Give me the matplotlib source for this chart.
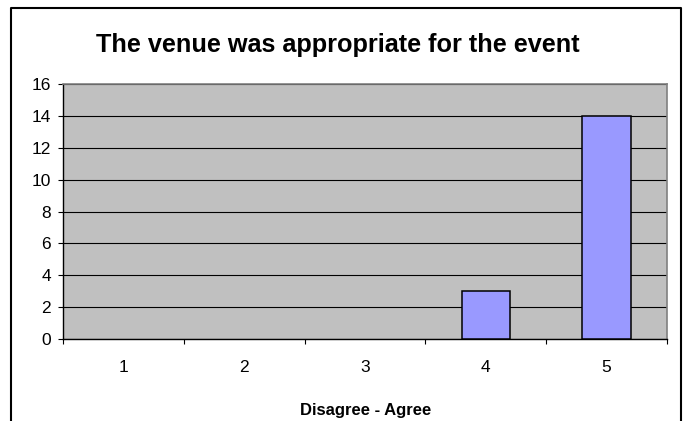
import numpy as np
import matplotlib
matplotlib.use('Agg')
import matplotlib.pyplot as plt
from matplotlib.lines import Line2D

#Chart data
categories = ['1', '2', '3', '4', '5']
counts = [0, 0, 0, 3, 14]
y_ticks = [0, 2, 4, 6, 8, 10, 12, 14, 16]
title = 'The venue was appropriate for the event'
x_label = 'Disagree - Agree'

plt.rcParams['font.family'] = ['Liberation Sans', 'DejaVu Sans']

W, H = 687, 421
fig = plt.figure(figsize=(W/100, H/100), dpi=100)

#Outer chart border (open at the bottom)
fig.add_artist(Line2D([11/W, 11/W, 681/W, 681/W], [-0.05, 1 - 8/H, 1 - 8/H, -0.05],
                      transform=fig.transFigure, color='black', lw=1.5))

#Plot area
ax = fig.add_axes([63/W, 1 - 339/H, (667 - 63)/W, (339 - 84)/H])
ax.set_facecolor('#C0C0C0')

x = np.arange(len(categories))
#Excel draws nothing for zero-height bars
edge_widths = [1.1 if c > 0 else 0 for c in counts]
ax.bar(x, counts, width=0.4, color='#9999FF', edgecolor='black', linewidth=edge_widths, zorder=3)

ax.set_xlim(-0.5, len(categories) - 0.5)
ax.set_ylim(0, 16)
ax.set_yticks(y_ticks)
ax.yaxis.grid(True, color='black', lw=0.8, zorder=1)
ax.set_axisbelow(True)

#Category labels in the middle, tick marks between categories
ax.set_xticks(x)
ax.set_xticklabels(categories)
ax.set_xticks(np.arange(-0.5, len(categories)), minor=True)
ax.tick_params(axis='x', which='major', length=0, pad=15, labelsize=12.5)
ax.tick_params(axis='x', which='minor', length=3.5, width=0.8, direction='out')
ax.tick_params(axis='y', length=3.6, width=0.8, pad=5, labelsize=12.5)

for side in ['top', 'right']:
    ax.spines[side].set_color('#808080')
    ax.spines[side].set_linewidth(1.2)
for side in ['left', 'bottom']:
    ax.spines[side].set_color('black')
    ax.spines[side].set_linewidth(1.0)

fig.text(337.5/W, 1 - 52/H, title, ha='center', va='baseline',
         fontsize=18.2, fontweight='bold')
fig.text(366/W, 1 - 411/H, x_label, ha='center', va='center',
         fontsize=12, fontweight='bold')

fig.savefig('out.png', dpi=100, facecolor='white')
